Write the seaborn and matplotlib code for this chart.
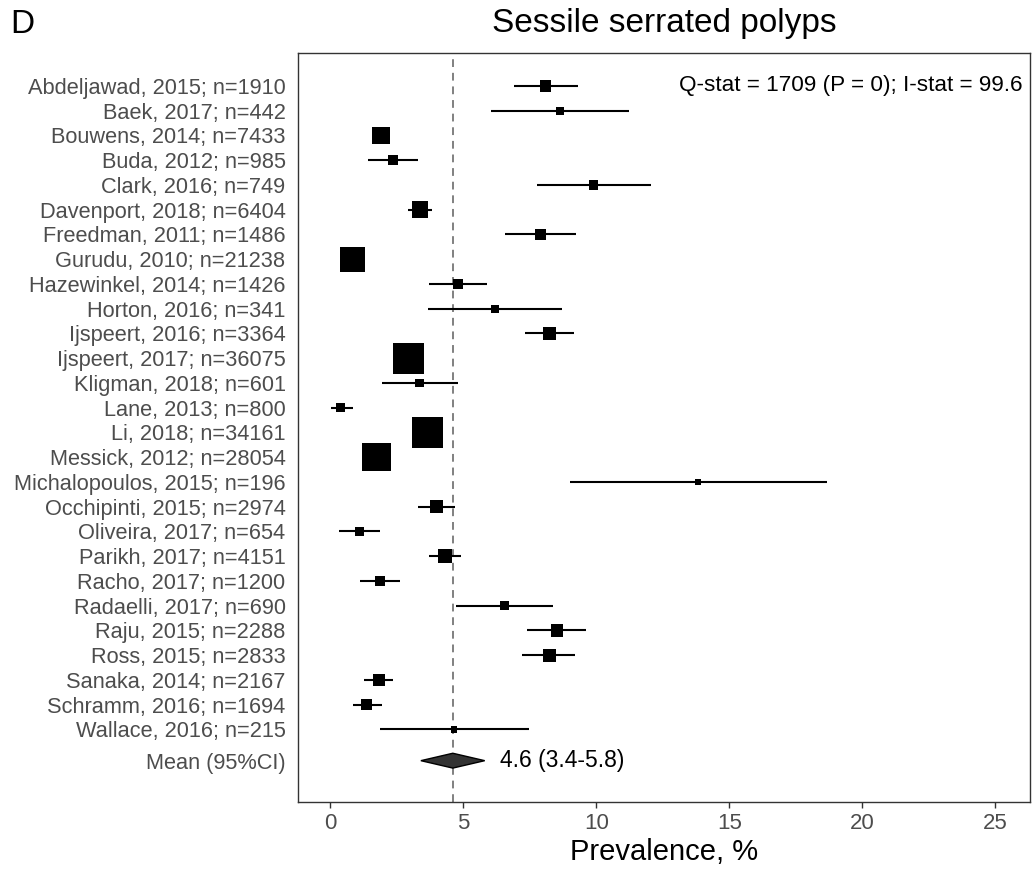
import numpy as np
import pandas as pd
import matplotlib
matplotlib.use("Agg")
import matplotlib.pyplot as plt
import seaborn as sns
from matplotlib.patches import Polygon

# ---------------- data ----------------
authors = ["Abdeljawad, 2015", "Baek, 2017", "Bouwens, 2014", "Buda, 2012", "Clark, 2016",
           "Davenport, 2018", "Freedman, 2011", "Gurudu, 2010", "Hazewinkel, 2014", "Horton, 2016",
           "Ijspeert, 2016", "Ijspeert, 2017", "Kligman, 2018", "Lane, 2013", "Li, 2018",
           "Messick, 2012", "Michalopoulos, 2015", "Occhipinti, 2015", "Oliveira, 2017", "Parikh, 2017",
           "Racho, 2017", "Radaelli, 2017", "Raju, 2015", "Ross, 2015", "Sanaka, 2014",
           "Schramm, 2016", "Wallace, 2016"]
n_patients = [1910, 442, 7433, 985, 749, 6404, 1486, 21238, 1426, 341,
              3364, 36075, 601, 800, 34161, 28054, 196, 2974, 654, 4151,
              1200, 690, 2288, 2833, 2167, 1694, 215]
prevalence = [8.08, 8.62, 1.90, 2.35, 9.90, 3.36, 7.89, 0.83, 4.79, 6.18,
              8.23, 2.93, 3.35, 0.38, 3.65, 1.73, 13.80, 3.98, 1.08, 4.31,
              1.85, 6.55, 8.51, 8.22, 1.82, 1.36, 4.65]
ci_low = [6.89, 6.02, 1.60, 1.41, 7.78, 2.92, 6.55, 0.71, 3.70, 3.65,
          7.32, 2.76, 1.93, 0.02, 3.45, 1.58, 9.00, 3.31, 0.31, 3.71,
          1.11, 4.71, 7.38, 7.20, 1.26, 0.84, 1.85]
ci_high = [9.29, 11.23, 2.20, 3.29, 12.04, 3.81, 9.25, 0.95, 5.89, 8.72,
           9.15, 3.10, 4.79, 0.83, 3.85, 1.88, 18.65, 4.67, 1.86, 4.92,
           2.61, 8.37, 9.62, 9.21, 2.37, 1.93, 7.48]
pooled_mean = 4.6
pooled_low = 3.4
pooled_high = 5.8
q_stat_text = "Q-stat = 1709 (P = 0); I-stat = 99.6"
title = "Sessile serrated polyps"
panel_letter = "D"
x_label = "Prevalence, %"
x_ticks = [0, 5, 10, 15, 20, 25]
mean_label = "Mean (95%CI)"

labels = [f"{a}; n={n}" for a, n in zip(authors, n_patients)]
rows = np.arange(len(labels), dtype=float)
mean_row = rows[-1] + 1.26

df = pd.DataFrame({"label": labels, "n": n_patients, "est": prevalence,
                   "lo": ci_low, "hi": ci_high, "row": rows})

# ggplot-like size scale (area palette): side in px
nmin, nmax = df["n"].min(), df["n"].max()
side_px = 6 + 25.3 * np.sqrt((df["n"] - nmin) / (nmax - nmin))
dpi = 100
side_pt = side_px * 72 / dpi
df["area"] = side_pt ** 2

# ---------------- style ----------------
sns.set_theme(style="white")
plt.rcParams['font.family'] = ['Liberation Sans', 'DejaVu Sans']

W, H = 1033, 869
fig = plt.figure(figsize=(W / dpi, H / dpi), dpi=dpi)
left, right, top, bottom = 298, 1030, 52.7, 802
ax = fig.add_axes([left / W, 1 - bottom / H, (right - left) / W, (bottom - top) / H])

# reference line
ax.axvline(pooled_mean, color="#808080", lw=1.4, ls=(0, (4, 3)), zorder=1)

# CIs
ax.hlines(df["row"], df["lo"], df["hi"], color="black", lw=1.5, zorder=2)

# squares
sns.scatterplot(data=df, x="est", y="row", size="area",
                sizes=(df["area"].min(), df["area"].max()),
                marker="s", color="black", linewidth=0, legend=False, ax=ax, zorder=3)

# pooled diamond
h = 0.3
diamond = Polygon([(pooled_low, mean_row), (pooled_mean, mean_row - h),
                   (pooled_high, mean_row), (pooled_mean, mean_row + h)],
                  closed=True, facecolor="#333333", edgecolor="black", lw=1.0, zorder=3)
ax.add_patch(diamond)
ax.text(6.39, mean_row, f"{pooled_mean} ({pooled_low}-{pooled_high})", ha="left", va="center",
        fontsize=16.5, color="black")
ax.text(26.03, 0, q_stat_text, ha="right", va="center", fontsize=16.2, color="black")

# axes
ax.set_xlim(-1.22, 26.3)
ax.set_ylim(28.93, -1.345)
ax.set_xticks(x_ticks)
ax.set_xticklabels([str(t) for t in x_ticks])
ax.set_yticks(list(rows) + [mean_row])
ax.set_yticklabels(labels + [mean_label])
ax.tick_params(axis="y", length=0, pad=9, labelsize=15.7, labelcolor="#4d4d4d")
ax.tick_params(axis="x", length=4, width=1.0, color="#333333", pad=4, labelsize=16,
               labelcolor="#4d4d4d", bottom=True)
ax.set_xlabel("")
ax.set_ylabel("")
for sp in ax.spines.values():
    sp.set_color("#333333")
    sp.set_linewidth(1.0)
ax.grid(False)

fig.text((left + right) / 2 / W, 1 - 31.7 / H, title, ha="center", va="baseline", fontsize=24, color="black")
fig.text(10 / W, 1 - 33 / H, panel_letter, ha="left", va="baseline", fontsize=24, color="black")
fig.text((left + right) / 2 / W, 1 - 860 / H, x_label, ha="center", va="baseline", fontsize=21, color="black")

fig.savefig("out.png", dpi=dpi)
